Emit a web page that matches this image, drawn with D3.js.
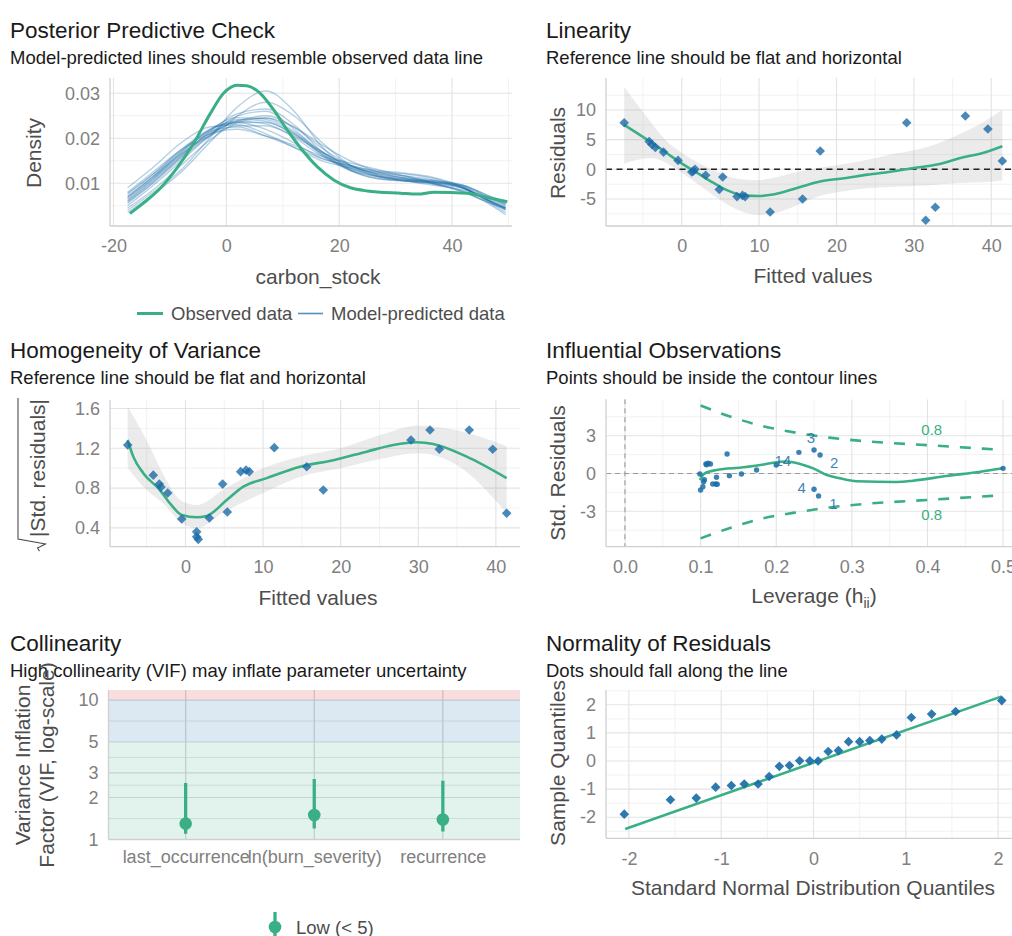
<!DOCTYPE html>
<html><head><meta charset="utf-8">
<script src="https://cdn.jsdelivr.net/npm/d3@7"></script>
<style>
body{margin:0;background:#fff;}
svg{display:block;font-family:"Liberation Sans",Arial,sans-serif;}
</style></head><body>
<svg id="chart" width="1012" height="936"></svg>
<script>
// ================= DATA =================
// Posterior predictive check
const ppcX = [-17.5,-13,-8,-3,2,7,12,17,22,27,32,37,42,46,49.5];
const ppcPredicted = [
  [0.004,0.008,0.013,0.020,0.027,0.0305,0.026,0.018,0.013,0.011,0.0105,0.010,0.009,0.0065,0.004],
  [0.0075,0.012,0.0175,0.022,0.0235,0.022,0.019,0.0155,0.014,0.0125,0.0115,0.010,0.008,0.006,0.0045],
  [0.009,0.0135,0.019,0.0225,0.023,0.021,0.018,0.015,0.0135,0.0125,0.012,0.011,0.009,0.0065,0.0045],
  [0.005,0.0095,0.015,0.0205,0.025,0.026,0.022,0.0165,0.013,0.0115,0.0108,0.0105,0.0095,0.0075,0.0055],
  [0.0065,0.011,0.0165,0.021,0.0235,0.0235,0.021,0.017,0.014,0.0118,0.0105,0.0095,0.0085,0.007,0.0055],
  [0.0035,0.0075,0.0125,0.019,0.025,0.028,0.025,0.019,0.014,0.0115,0.0105,0.0098,0.0088,0.0065,0.0045],
  [0.007,0.0115,0.017,0.0215,0.0225,0.0205,0.018,0.0155,0.0138,0.0128,0.0122,0.0112,0.0092,0.0062,0.0035],
  [0.0055,0.010,0.0155,0.0205,0.024,0.0245,0.0215,0.017,0.0135,0.0115,0.0105,0.0102,0.0095,0.0075,0.0058],
  [0.008,0.0125,0.0175,0.021,0.022,0.0205,0.0185,0.016,0.0145,0.013,0.0115,0.0098,0.0082,0.006,0.0042],
  [0.006,0.0105,0.016,0.0215,0.0255,0.0265,0.023,0.017,0.0128,0.011,0.0105,0.0102,0.0092,0.0068,0.0048],
  [0.0045,0.0085,0.014,0.0195,0.0235,0.0245,0.0225,0.0185,0.015,0.0125,0.011,0.0098,0.0082,0.0058,0.003],
  [0.007,0.0115,0.0165,0.0205,0.0228,0.0228,0.0205,0.0168,0.0138,0.012,0.0112,0.0106,0.0096,0.0072,0.0052],
  [0.0062,0.0108,0.0162,0.0212,0.0242,0.0238,0.0208,0.0165,0.0132,0.0117,0.0109,0.0101,0.0089,0.0066,0.0046],
  [0.0068,0.0112,0.0168,0.0218,0.0246,0.0242,0.0212,0.0162,0.0128,0.0114,0.0108,0.0103,0.0093,0.0071,0.0051],
  [0.0058,0.0102,0.0158,0.0208,0.0238,0.0250,0.0225,0.0178,0.0140,0.0121,0.0111,0.0104,0.0090,0.0064,0.0042],
  [0.0078,0.0120,0.0172,0.0218,0.0238,0.0232,0.0202,0.0160,0.0133,0.0122,0.0116,0.0107,0.0089,0.0064,0.0044]
];
const ppcObsX = [-17.1,-14.7,-11.7,-8.8,-5.8,-2.8,-0.5,1.9,3.6,6.0,8.4,10.8,13.2,16.1,19.1,22.0,25.0,30.9,33.9,36.8,42.7,45.7,49.8];
const ppcObsY = [0.0033,0.0056,0.0089,0.0133,0.0189,0.0256,0.0300,0.0318,0.0317,0.0300,0.0263,0.0218,0.0178,0.0137,0.0107,0.0090,0.0083,0.0078,0.0076,0.0080,0.0078,0.0070,0.0059];
const ppcXTicks = [-20,0,20,40];
const ppcYTicks = [0.01,0.02,0.03];

// Linearity & homogeneity
const fittedValues = [-7.43,-4.2,-3.85,-3.4,-2.35,-0.47,1.3,1.5,1.72,3.1,4.85,5.3,7.15,7.85,8.2,11.43,15.62,17.9,29.07,31.53,32.77,36.65,39.56,41.43];
const residuals =    [7.85,4.7,4.2,3.7,2.9,1.5,-0.45,-0.3,0.0,-1.0,-3.4,-1.3,-4.6,-4.4,-4.6,-7.2,-5.0,3.1,7.85,-8.6,-6.4,9.0,6.8,1.4];
const sqrtAbsStdResiduals = [1.233,0.93,0.84,0.81,0.75,0.49,0.36,0.31,0.285,0.50,0.84,0.56,0.965,0.98,0.965,1.206,1.015,0.78,1.283,1.384,1.19,1.384,1.19,0.547];
const homFittedValues = [-7.45,-4.15,-3.38,-3.16,-2.29,-0.49,1.44,1.44,1.65,3.07,4.79,5.39,7.11,7.80,8.22,11.44,15.62,17.76,29.06,31.51,32.71,36.57,39.59,41.39];

const linSmoothX  = [-7.43,-4,-2,0,2,4,6,8,10,12,15,18,21,24,27,30,33,36,39,41.43];
const linSmoothY  = [7.5,4.6,2.8,1.0,-0.6,-2.2,-3.6,-4.4,-4.5,-4.2,-3.1,-2.0,-1.5,-0.9,-0.4,0.2,0.8,1.9,2.8,3.9];
const linSmoothLo = [1.0,1.9,1.1,-0.6,-2.4,-4.3,-6.0,-7.2,-7.7,-7.4,-6.0,-4.4,-3.7,-3.2,-3.0,-2.8,-2.6,-2.3,-2.2,-1.9];
const linSmoothHi = [13.9,8.0,4.8,2.8,1.2,0.0,-1.2,-1.7,-1.8,-1.4,-0.4,0.3,0.9,1.6,2.5,3.2,4.3,6.0,8.0,10.0];
const linXTicks = [0,10,20,30,40];
const linYTicks = [-5,0,5,10];

const homSmoothX = [-7.45,-6.73,-5.44,-3.29,-2.0,-0.49,1.44,2.73,5.31,7.45,10.46,14.76,19.05,23.35,26.78,29.79,31.93,36.24,41.39];
const homSmoothY = [1.283,1.116,0.95,0.78,0.647,0.53,0.507,0.52,0.68,0.814,0.9,1.015,1.08,1.166,1.233,1.26,1.243,1.116,0.9];
const homBandX  = [-7.45,-5,-2.8,-0.5,1.5,5,10,15,20,25,30,35,41.39];
const homBandHi = [1.62,1.28,0.93,0.67,0.63,0.79,1.0,1.12,1.2,1.33,1.43,1.38,1.22];
const homBandLo = [1.0,0.78,0.64,0.45,0.40,0.56,0.75,0.92,1.0,1.09,1.15,1.03,0.55];
const homXTicks = [0,10,20,30,40];
const homYTicks = [0.4,0.8,1.2,1.6];

// Influential observations
const leverage =     [0.099,0.1,0.103,0.104,0.105,0.107,0.108,0.11,0.113,0.116,0.12,0.122,0.121,0.135,0.138,0.154,0.174,0.2,0.23,0.25,0.258,0.25,0.256,0.5];
const stdResiduals = [-0.04,-1.31,-1.05,-0.65,-0.5,0.75,0.7,0.81,0.75,-0.83,-0.83,-0.85,-0.3,1.55,-0.17,-0.04,0.28,0.67,1.68,1.87,1.47,-1.25,-1.79,0.41];
const infSmoothX = [0.099,0.105,0.121,0.157,0.179,0.196,0.214,0.236,0.249,0.267,0.284,0.306,0.359,0.381,0.425,0.47,0.5];
const infSmoothY = [-0.52,0.0,0.28,0.49,0.67,0.86,0.95,0.67,0.41,-0.12,-0.38,-0.62,-0.67,-0.57,-0.2,0.14,0.41];
const cookLev   = [0.1,0.14,0.18,0.23,0.27,0.32,0.4,0.5];
const cookUpper = [5.4,4.5,3.8,3.2,2.85,2.55,2.25,1.87];
const cookLower = [-5.15,-4.3,-3.6,-3.05,-2.7,-2.4,-2.1,-1.72];
const infLabelText = ["14","3","2","4","1"];
const infLabelLev  = [0.2086,0.246,0.2765,0.2337,0.2755];
const infLabelRes  = [1.07,2.84,0.86,-1.13,-2.37];
const cookLabelText = ["0.8","0.8"];
const cookLabelLev  = [0.4057,0.4057];
const cookLabelRes  = [3.51,-3.29];
const infXTicks = [0,0.1,0.2,0.3,0.4,0.5];
const infYTicks = [-3,0,3];

// Collinearity
const vifTerms  = ["last_occurrence","ln(burn_severity)","recurrence"];
const vifValues = [1.30,1.50,1.39];
const vifLow    = [1.10,1.20,1.14];
const vifHigh   = [2.54,2.72,2.64];
const vifZoneFrom = [1,5,10];
const vifZoneTo   = [5,10,11.8];
const vifYTicks = [1,2,3,5,10];

// Normality of residuals
const qqTheoretical = [-2.05,-1.55,-1.27,-1.06,-0.89,-0.75,-0.60,-0.48,-0.37,-0.26,-0.15,-0.04,0.05,0.16,0.27,0.38,0.50,0.61,0.74,0.90,1.06,1.28,1.54,2.04];
const qqSample      = [-1.89,-1.38,-1.32,-0.93,-0.87,-0.82,-0.82,-0.55,-0.19,-0.16,0.01,0.01,0.0,0.34,0.37,0.69,0.69,0.73,0.78,0.93,1.55,1.67,1.76,2.15];
const qqLineX = [-2.04,2.04];
const qqLineY = [-2.42,2.30];
const qqTicks = [-2,-1,0,1,2];

// ================= DRAWING =================
const GREEN = "#3aaf85", BLUE = "#1b6ca8", RED = "#cd201f";
const TICK_COL = "#808080", AXT_COL = "#4d4d4d", TITLE_COL = "#1a1a1a";
const FONT = '"Liberation Sans", Arial, sans-serif';
const svg = d3.select("#chart");
const defs = svg.append("defs");

function makePanel(id, box) {
  defs.append("clipPath").attr("id", id).append("rect")
    .attr("x", box.l).attr("y", box.t).attr("width", box.r - box.l).attr("height", box.b - box.t);
  const g = svg.append("g");
  const plot = g.append("g").attr("clip-path", `url(#${id})`);
  return {g, plot};
}
function midpoints(t, extra) {
  const m = [];
  for (let i = 0; i < t.length - 1; i++) m.push((t[i] + t[i + 1]) / 2);
  return m.concat(extra || []);
}
function hLines(plot, vals, y, box, col, w) {
  plot.append("g").selectAll("line").data(vals).join("line")
    .attr("x1", box.l).attr("x2", box.r).attr("y1", d => y(d)).attr("y2", d => y(d))
    .attr("stroke", col).attr("stroke-width", w);
}
function vLines(plot, vals, x, box, col, w) {
  plot.append("g").selectAll("line").data(vals).join("line")
    .attr("y1", box.t).attr("y2", box.b).attr("x1", d => x(d)).attr("x2", d => x(d))
    .attr("stroke", col).attr("stroke-width", w);
}
function grid(plot, x, y, box, xMaj, xMin, yMaj, yMin) {
  vLines(plot, xMin, x, box, "#f0f0f0", 0.9);
  hLines(plot, yMin, y, box, "#f0f0f0", 0.9);
  vLines(plot, xMaj, x, box, "#e3e3e3", 1.1);
  hLines(plot, yMaj, y, box, "#e3e3e3", 1.1);
}
function axes(g, x, y, box, xTicks, yTicks, xFmt, yFmt, xPad) {
  g.append("line").attr("x1", box.l).attr("x2", box.l).attr("y1", box.t).attr("y2", box.b)
    .attr("stroke", "#cfcfcf").attr("stroke-width", 1.3);
  g.append("line").attr("x1", box.l).attr("x2", box.r).attr("y1", box.b).attr("y2", box.b)
    .attr("stroke", "#cfcfcf").attr("stroke-width", 1.3);
  const ax = d3.axisBottom(x).tickSize(0).tickPadding(xPad === undefined ? 13.5 : xPad);
  if (xTicks) ax.tickValues(xTicks);
  if (xFmt) ax.tickFormat(xFmt);
  const ga = g.append("g").attr("transform", `translate(0,${box.b})`).call(ax);
  ga.select(".domain").remove();
  ga.attr("font-size", 18).attr("font-family", FONT);
  ga.selectAll("text").attr("fill", TICK_COL);
  const ay = d3.axisLeft(y).tickSize(0).tickPadding(10).tickValues(yTicks);
  if (yFmt) ay.tickFormat(yFmt);
  const gy = g.append("g").attr("transform", `translate(${box.l},0)`).call(ay);
  gy.select(".domain").remove();
  gy.attr("font-size", 18).attr("font-family", FONT);
  gy.selectAll("text").attr("fill", TICK_COL);
}
function titles(x, yT, title, sub) {
  svg.append("text").attr("x", x).attr("y", yT).attr("font-size", 22.5).attr("fill", TITLE_COL).text(title);
  svg.append("text").attr("x", x).attr("y", yT + 26).attr("font-size", 18.5).attr("fill", TITLE_COL).text(sub);
}
function xTitle(text, cx, y) {
  return svg.append("text").attr("x", cx).attr("y", y).attr("text-anchor", "middle")
    .attr("font-size", 21).attr("fill", AXT_COL).text(text);
}
function yTitle(text, cx, cy) {
  return svg.append("text").attr("transform", `translate(${cx},${cy}) rotate(-90)`)
    .attr("text-anchor", "middle").attr("dominant-baseline", "central")
    .attr("font-size", 21).attr("fill", AXT_COL).text(text);
}
const diamond = "M0,-4.8L4.8,0L0,4.8L-4.8,0Z";

// ---------- Panel 1: Posterior Predictive Check ----------
{
  const box = {l: 110, r: 512, t: 78, b: 226};
  const {g, plot} = makePanel("c1", box);
  const x = d3.scaleLinear().domain([-20.62, 50.63]).range([box.l, box.r]);
  const y = d3.scaleLinear().domain([0.00051, 0.0334]).range([box.b, box.t]);
  grid(plot, x, y, box, ppcXTicks, midpoints(ppcXTicks, [-30, 50]), ppcYTicks, midpoints(ppcYTicks, [0.005, 0.035]));
  const predLine = d3.line().x((d, i) => x(ppcX[i])).y(d => y(d)).curve(d3.curveMonotoneX);
  plot.append("g").selectAll("path").data(ppcPredicted).join("path")
    .attr("d", predLine).attr("fill", "none").attr("stroke", BLUE)
    .attr("stroke-opacity", 0.32).attr("stroke-width", 1.4);
  const obsLine = d3.line().x((d, i) => x(ppcObsX[i])).y(d => y(d)).curve(d3.curveMonotoneX);
  plot.append("path").datum(ppcObsY).attr("d", obsLine).attr("fill", "none")
    .attr("stroke", GREEN).attr("stroke-width", 3);
  axes(g, x, y, box, ppcXTicks, ppcYTicks, d => String(d), d3.format(".2f"));
  titles(10, 38, "Posterior Predictive Check", "Model-predicted lines should resemble observed data line");
  xTitle("carbon_stock", 318, 284);
  yTitle("Density", 33, 153);
  // legend
  svg.append("line").attr("x1", 137).attr("x2", 163).attr("y1", 313.5).attr("y2", 313.5)
    .attr("stroke", GREEN).attr("stroke-width", 3);
  svg.append("text").attr("x", 171).attr("y", 320).attr("font-size", 18.5).attr("fill", AXT_COL).text("Observed data");
  svg.append("line").attr("x1", 298).attr("x2", 323).attr("y1", 313.5).attr("y2", 313.5)
    .attr("stroke", BLUE).attr("stroke-opacity", 0.75).attr("stroke-width", 1.6);
  svg.append("text").attr("x", 331).attr("y", 320).attr("font-size", 18.5).attr("fill", AXT_COL).text("Model-predicted data");
}

// ---------- Panel 2: Linearity ----------
{
  const box = {l: 606, r: 1022, t: 78, b: 226};
  const {g, plot} = makePanel("c2", box);
  const x = d3.scaleLinear().domain([-9.78, 43.97]).range([box.l, box.r]);
  const y = d3.scaleLinear().domain([-9.56, 15.4]).range([box.b, box.t]);
  grid(plot, x, y, box, linXTicks, midpoints(linXTicks, [-5, 45]), linYTicks, midpoints(linYTicks, [-7.5, 12.5]));
  const area = d3.area().x((d, i) => x(linSmoothX[i])).y0((d, i) => y(linSmoothLo[i])).y1(d => y(d)).curve(d3.curveMonotoneX);
  plot.append("path").datum(linSmoothHi).attr("d", area).attr("fill", "#999").attr("fill-opacity", 0.2);
  plot.append("line").attr("x1", box.l).attr("x2", box.r).attr("y1", y(0)).attr("y2", y(0))
    .attr("stroke", "#222").attr("stroke-width", 1.5).attr("stroke-dasharray", "6,4.5");
  const line = d3.line().x((d, i) => x(linSmoothX[i])).y(d => y(d)).curve(d3.curveMonotoneX);
  plot.append("path").datum(linSmoothY).attr("d", line).attr("fill", "none").attr("stroke", GREEN).attr("stroke-width", 2.6);
  plot.append("g").selectAll("path").data(residuals).join("path")
    .attr("d", diamond).attr("transform", (d, i) => `translate(${x(fittedValues[i])},${y(d)})`)
    .attr("fill", BLUE).attr("fill-opacity", 0.8);
  axes(g, x, y, box, linXTicks, linYTicks, d => String(d), d => String(d));
  titles(546, 38, "Linearity", "Reference line should be flat and horizontal");
  xTitle("Fitted values", 813, 283);
  yTitle("Residuals", 557, 153);
}

// ---------- Panel 3: Homogeneity of Variance ----------
{
  const box = {l: 110, r: 520, t: 400, b: 546.7};
  const {g, plot} = makePanel("c3", box);
  const x = d3.scaleLinear().domain([-9.73, 43.11]).range([box.l, box.r]);
  const y = d3.scaleLinear().domain([0.211, 1.685]).range([box.b, box.t]);
  grid(plot, x, y, box, homXTicks, midpoints(homXTicks, [-5, 45]), homYTicks, midpoints(homYTicks, [0.2]));
  const area = d3.area().x((d, i) => x(homBandX[i])).y0((d, i) => y(homBandLo[i])).y1(d => y(d)).curve(d3.curveMonotoneX);
  plot.append("path").datum(homBandHi).attr("d", area).attr("fill", "#999").attr("fill-opacity", 0.2);
  const line = d3.line().x((d, i) => x(homSmoothX[i])).y(d => y(d)).curve(d3.curveMonotoneX);
  plot.append("path").datum(homSmoothY).attr("d", line).attr("fill", "none").attr("stroke", GREEN).attr("stroke-width", 2.6);
  plot.append("g").selectAll("path").data(sqrtAbsStdResiduals).join("path")
    .attr("d", diamond).attr("transform", (d, i) => `translate(${x(homFittedValues[i])},${y(d)})`)
    .attr("fill", BLUE).attr("fill-opacity", 0.8);
  axes(g, x, y, box, homXTicks, homYTicks, d => String(d), d3.format(".1f"));
  titles(10, 358, "Homogeneity of Variance", "Reference line should be flat and horizontal");
  xTitle("Fitted values", 318, 605);
  // y title with radical
  const cx = 37.5, cy = 468;
  const gt = svg.append("g").attr("transform", `translate(${cx},${cy}) rotate(-90)`);
  const t = gt.append("text").attr("text-anchor", "middle").attr("dominant-baseline", "central")
    .attr("font-size", 21).attr("fill", AXT_COL).text("|Std. residuals|");
  const L = t.node().getComputedTextLength();
  const s = -L / 2 - 2, e = L / 2 + 1;
  gt.append("path").attr("d", `M${s - 12},2 L${s - 9},0 L${s - 5},8 L${s},-19.5 L${e},-19.5`)
    .attr("fill", "none").attr("stroke", AXT_COL).attr("stroke-width", 1.1);
}

// ---------- Panel 4: Influential Observations ----------
{
  const box = {l: 606, r: 1022, t: 399.3, b: 546.7};
  const {g, plot} = makePanel("c4", box);
  const x = d3.scaleLinear().domain([-0.0251, 0.525]).range([box.l, box.r]);
  const y = d3.scaleLinear().domain([-5.81, 5.89]).range([box.b, box.t]);
  grid(plot, x, y, box, infXTicks, midpoints(infXTicks), infYTicks, midpoints(infYTicks, [-4.5, 4.5]));
  plot.append("line").attr("x1", x(0)).attr("x2", x(0)).attr("y1", box.t).attr("y2", box.b)
    .attr("stroke", "#9a9a9a").attr("stroke-width", 1.1).attr("stroke-dasharray", "5,4");
  plot.append("line").attr("x1", box.l).attr("x2", box.r).attr("y1", y(0)).attr("y2", y(0))
    .attr("stroke", "#9a9a9a").attr("stroke-width", 1.1).attr("stroke-dasharray", "5,4");
  const cook = d3.line().x((d, i) => x(cookLev[i])).y(d => y(d)).curve(d3.curveMonotoneX);
  [cookUpper, cookLower].forEach(arr => {
    plot.append("path").datum(arr).attr("d", cook).attr("fill", "none").attr("stroke", GREEN)
      .attr("stroke-width", 2.6).attr("stroke-dasharray", "11,11");
  });
  const sm = d3.line().x((d, i) => x(infSmoothX[i])).y(d => y(d)).curve(d3.curveMonotoneX);
  plot.append("path").datum(infSmoothY).attr("d", sm).attr("fill", "none").attr("stroke", GREEN).attr("stroke-width", 2.6);
  plot.append("g").selectAll("circle").data(stdResiduals).join("circle")
    .attr("cx", (d, i) => x(leverage[i])).attr("cy", d => y(d)).attr("r", 2.7)
    .attr("fill", BLUE).attr("fill-opacity", 0.85);
  plot.append("g").selectAll("text").data(infLabelText).join("text")
    .attr("x", (d, i) => x(infLabelLev[i])).attr("y", (d, i) => y(infLabelRes[i]))
    .attr("text-anchor", "middle").attr("dominant-baseline", "central")
    .attr("font-size", 15).attr("fill", BLUE).attr("fill-opacity", 0.85).text(d => d);
  plot.append("g").selectAll("text").data(cookLabelText).join("text")
    .attr("x", (d, i) => x(cookLabelLev[i])).attr("y", (d, i) => y(cookLabelRes[i]))
    .attr("text-anchor", "middle").attr("dominant-baseline", "central")
    .attr("font-size", 15).attr("fill", GREEN).text(d => d);
  axes(g, x, y, box, infXTicks, infYTicks, d3.format(".1f"), d => String(d));
  titles(546, 358, "Influential Observations", "Points should be inside the contour lines");
  const xt = xTitle("Leverage (h", 814, 603);
  xt.append("tspan").attr("font-size", 14).attr("dy", 5).text("ii");
  xt.append("tspan").attr("dy", -5).text(")");
  yTitle("Std. Residuals", 557, 473);
}

// ---------- Panel 5: Collinearity ----------
{
  const box = {l: 108.5, r: 520, t: 690, b: 839.5};
  const {g, plot} = makePanel("c5", box);
  const x = d3.scalePoint().domain(vifTerms).range([box.l, box.r]).padding(0.6);
  const y = d3.scaleLog().domain([1, 11.8]).range([box.b, box.t]);
  const minors = [];
  for (let i = 0; i < vifYTicks.length - 1; i++) minors.push(Math.sqrt(vifYTicks[i] * vifYTicks[i + 1]));
  hLines(plot, minors, y, box, "#e6e6e6", 1);
  hLines(plot, vifYTicks, y, box, "#dcdcdc", 1.2);
  vLines(plot, vifTerms, x, box, "#d4d4d4", 1.2);
  const zoneCols = [GREEN, BLUE, RED];
  plot.append("g").selectAll("rect").data(vifZoneFrom).join("rect")
    .attr("x", box.l).attr("width", box.r - box.l)
    .attr("y", (d, i) => y(vifZoneTo[i])).attr("height", (d, i) => y(d) - y(vifZoneTo[i]))
    .attr("fill", (d, i) => zoneCols[i]).attr("fill-opacity", 0.15);
  plot.append("g").selectAll("line").data(vifValues).join("line")
    .attr("x1", (d, i) => x(vifTerms[i])).attr("x2", (d, i) => x(vifTerms[i]))
    .attr("y1", (d, i) => y(vifLow[i])).attr("y2", (d, i) => y(vifHigh[i]))
    .attr("stroke", GREEN).attr("stroke-width", 3.3);
  plot.append("g").selectAll("circle").data(vifValues).join("circle")
    .attr("cx", (d, i) => x(vifTerms[i])).attr("cy", d => y(d)).attr("r", 6.3).attr("fill", GREEN);
  axes(g, x, y, box, null, vifYTicks, null, d => String(d), 11);
  titles(10, 651, "Collinearity", "High collinearity (VIF) may inflate parameter uncertainty");
  yTitle("Variance Inflation", 22, 765);
  yTitle("Factor (VIF, log-scale)", 46, 765);
  // legend
  svg.append("line").attr("x1", 275).attr("x2", 275).attr("y1", 912).attr("y2", 942)
    .attr("stroke", GREEN).attr("stroke-width", 3.3);
  svg.append("circle").attr("cx", 275).attr("cy", 927).attr("r", 6.3).attr("fill", GREEN);
  svg.append("text").attr("x", 296).attr("y", 933.5).attr("font-size", 18.5).attr("fill", AXT_COL).text("Low (< 5)");
}

// ---------- Panel 6: Normality of Residuals ----------
{
  const box = {l: 606, r: 1022, t: 690, b: 838.3};
  const {g, plot} = makePanel("c6", box);
  const x = d3.scaleLinear().domain([-2.248, 2.259]).range([box.l, box.r]);
  const y = d3.scaleLinear().domain([-2.75, 2.527]).range([box.b, box.t]);
  grid(plot, x, y, box, qqTicks, midpoints(qqTicks), qqTicks, midpoints(qqTicks, [-2.5, 2.5]));
  const line = d3.line().x((d, i) => x(qqLineX[i])).y(d => y(d));
  plot.append("path").datum(qqLineY).attr("d", line).attr("fill", "none").attr("stroke", GREEN).attr("stroke-width", 2.6);
  plot.append("g").selectAll("path").data(qqSample).join("path")
    .attr("d", diamond).attr("transform", (d, i) => `translate(${x(qqTheoretical[i])},${y(d)})`)
    .attr("fill", BLUE).attr("fill-opacity", 0.92);
  axes(g, x, y, box, qqTicks, qqTicks, d => String(d), d => String(d));
  titles(546, 651, "Normality of Residuals", "Dots should fall along the line");
  xTitle("Standard Normal Distribution Quantiles", 813, 895);
  yTitle("Sample Quantiles", 557, 763);
}
</script>
</body></html>
